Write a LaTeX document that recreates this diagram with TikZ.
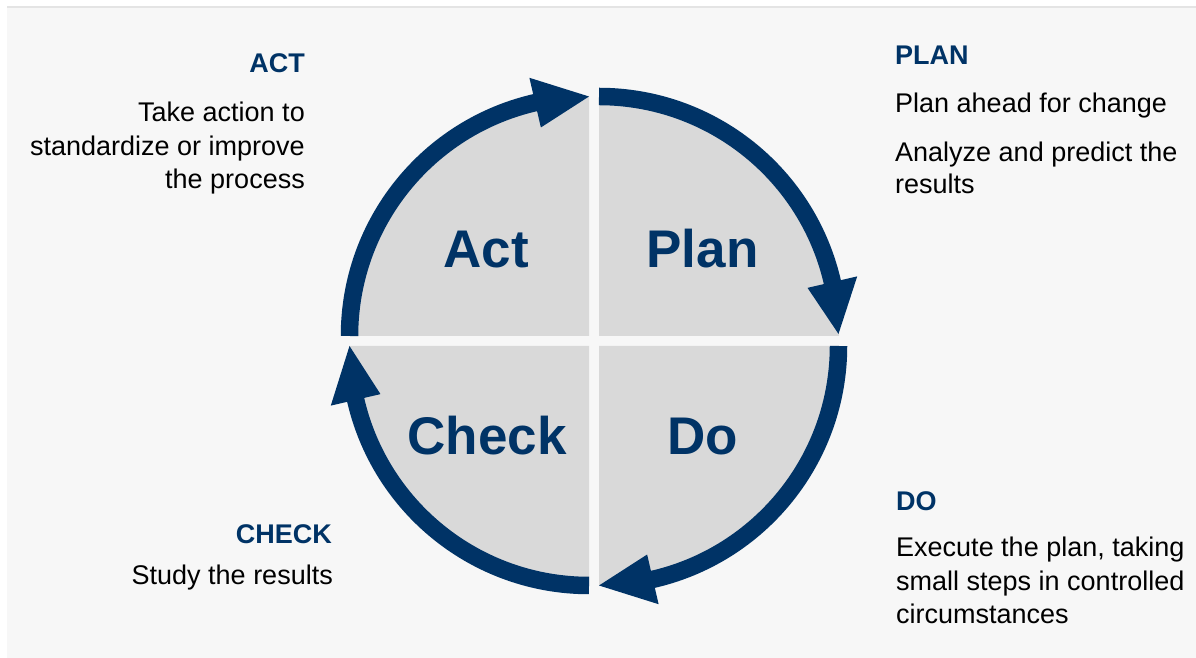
\documentclass[tikz,border=0pt]{standalone}
\usepackage{fontspec}
\setmainfont{Liberation Sans}
\definecolor{navy}{RGB}{0,51,102}
\definecolor{quad}{RGB}{217,217,217}
\definecolor{bgc}{RGB}{247,247,247}
\definecolor{edgec}{RGB}{228,228,228}
\begin{document}
\begin{tikzpicture}[x=1pt,y=1pt,
  quadfill/.style={fill=quad},
  ring/.style={draw=navy, line width=17.5pt, line cap=butt},
  head/.style={fill=navy},
  big/.style={font=\fontsize{53}{60}\selectfont\bfseries, text=navy, inner sep=0pt},
  ttl/.style={font=\fontsize{27}{32}\selectfont\bfseries, text=navy, inner sep=0pt},
  body/.style={font=\fontsize{27}{32}\selectfont, text=black, inner sep=0pt}]
\useasboundingbox (0,0) rectangle (1196,658);
\fill[white] (0,0) rectangle (1196,658);
\fill[bgc] (7,0) rectangle (1196,652);
\fill[edgec] (7,650) rectangle (1196,652);
% quadrant corners
\coordinate (cP) at (599,322);
\coordinate (cD) at (599,312);
\coordinate (cC) at (589,312);
\coordinate (cA) at (589,322);
% quadrant fills
\fill[quadfill] (cP) -- ([shift={(90:240)}]cP) arc[start angle=90,end angle=0,radius=240] -- cycle;
\fill[quadfill] (cD) -- ([shift={(0:240)}]cD) arc[start angle=0,end angle=-90,radius=240] -- cycle;
\fill[quadfill] (cC) -- ([shift={(-90:240)}]cC) arc[start angle=-90,end angle=-180,radius=240] -- cycle;
\fill[quadfill] (cA) -- ([shift={(180:240)}]cA) arc[start angle=180,end angle=90,radius=240] -- cycle;
% rings
\draw[ring] ([shift={(90:239.5)}]cP) arc[start angle=90,end angle=12.5,radius=239.5];
\draw[ring] ([shift={(0:239.5)}]cD) arc[start angle=0,end angle=-77.5,radius=239.5];
\draw[ring] ([shift={(-90:239.5)}]cC) arc[start angle=-90,end angle=-167.5,radius=239.5];
\draw[ring] ([shift={(180:239.5)}]cA) arc[start angle=180,end angle=102.5,radius=239.5];
% arrow heads
\fill[head] ([shift={(13:265)}]cP) -- ([shift={(0.5:239.5)}]cP) -- ([shift={(13:214)}]cP) -- cycle;
\fill[head] ([shift={(-77:265)}]cD) -- ([shift={(-90:239.5)}]cD) -- ([shift={(-77:214)}]cD) -- cycle;
\fill[head] ([shift={(-167:265)}]cC) -- ([shift={(-180:239.5)}]cC) -- ([shift={(-167:214)}]cC) -- cycle;
\fill[head] ([shift={(103:265)}]cA) -- ([shift={(90:239.5)}]cA) -- ([shift={(103:214)}]cA) -- cycle;
% big labels
\node[big, anchor=base] (lAct) at (486,390) {Act};
\node[big, anchor=base] (lPlan) at (702.5,390) {Plan};
\node[big, anchor=base] (lCheck) at (487,203) {Check};
\node[big, anchor=base] (lDo) at (703,203) {Do};
% ACT text
\node[ttl, anchor=base east] (tAct) at (305,585.5) {ACT};
\node[body, anchor=base east] (act1) at (305,536) {Take action to};
\node[body, anchor=base east] (act2) at (305,502) {standardize or improve};
\node[body, anchor=base east] (act3) at (305,469) {the process};
% PLAN text
\node[ttl, anchor=base west] (tPlan) at (895,593) {PLAN};
\node[body, anchor=base west] (plan1) at (895,545) {Plan ahead for change};
\node[body, anchor=base west] (plan2) at (895,496.5) {Analyze and predict the};
\node[body, anchor=base west] (plan3) at (895,464) {results};
% DO text
\node[ttl, anchor=base west] (tDo) at (896,147) {DO};
\node[body, anchor=base west] (do1) at (896,101) {Execute the plan, taking};
\node[body, anchor=base west] (do2) at (896,67) {small steps in controlled};
\node[body, anchor=base west] (do3) at (896,34) {circumstances};
% CHECK text
\node[ttl, anchor=base east] (tCheck) at (332,114) {CHECK};
\node[body, anchor=base east] (check1) at (333,73) {Study the results};
\end{tikzpicture}
\end{document}
